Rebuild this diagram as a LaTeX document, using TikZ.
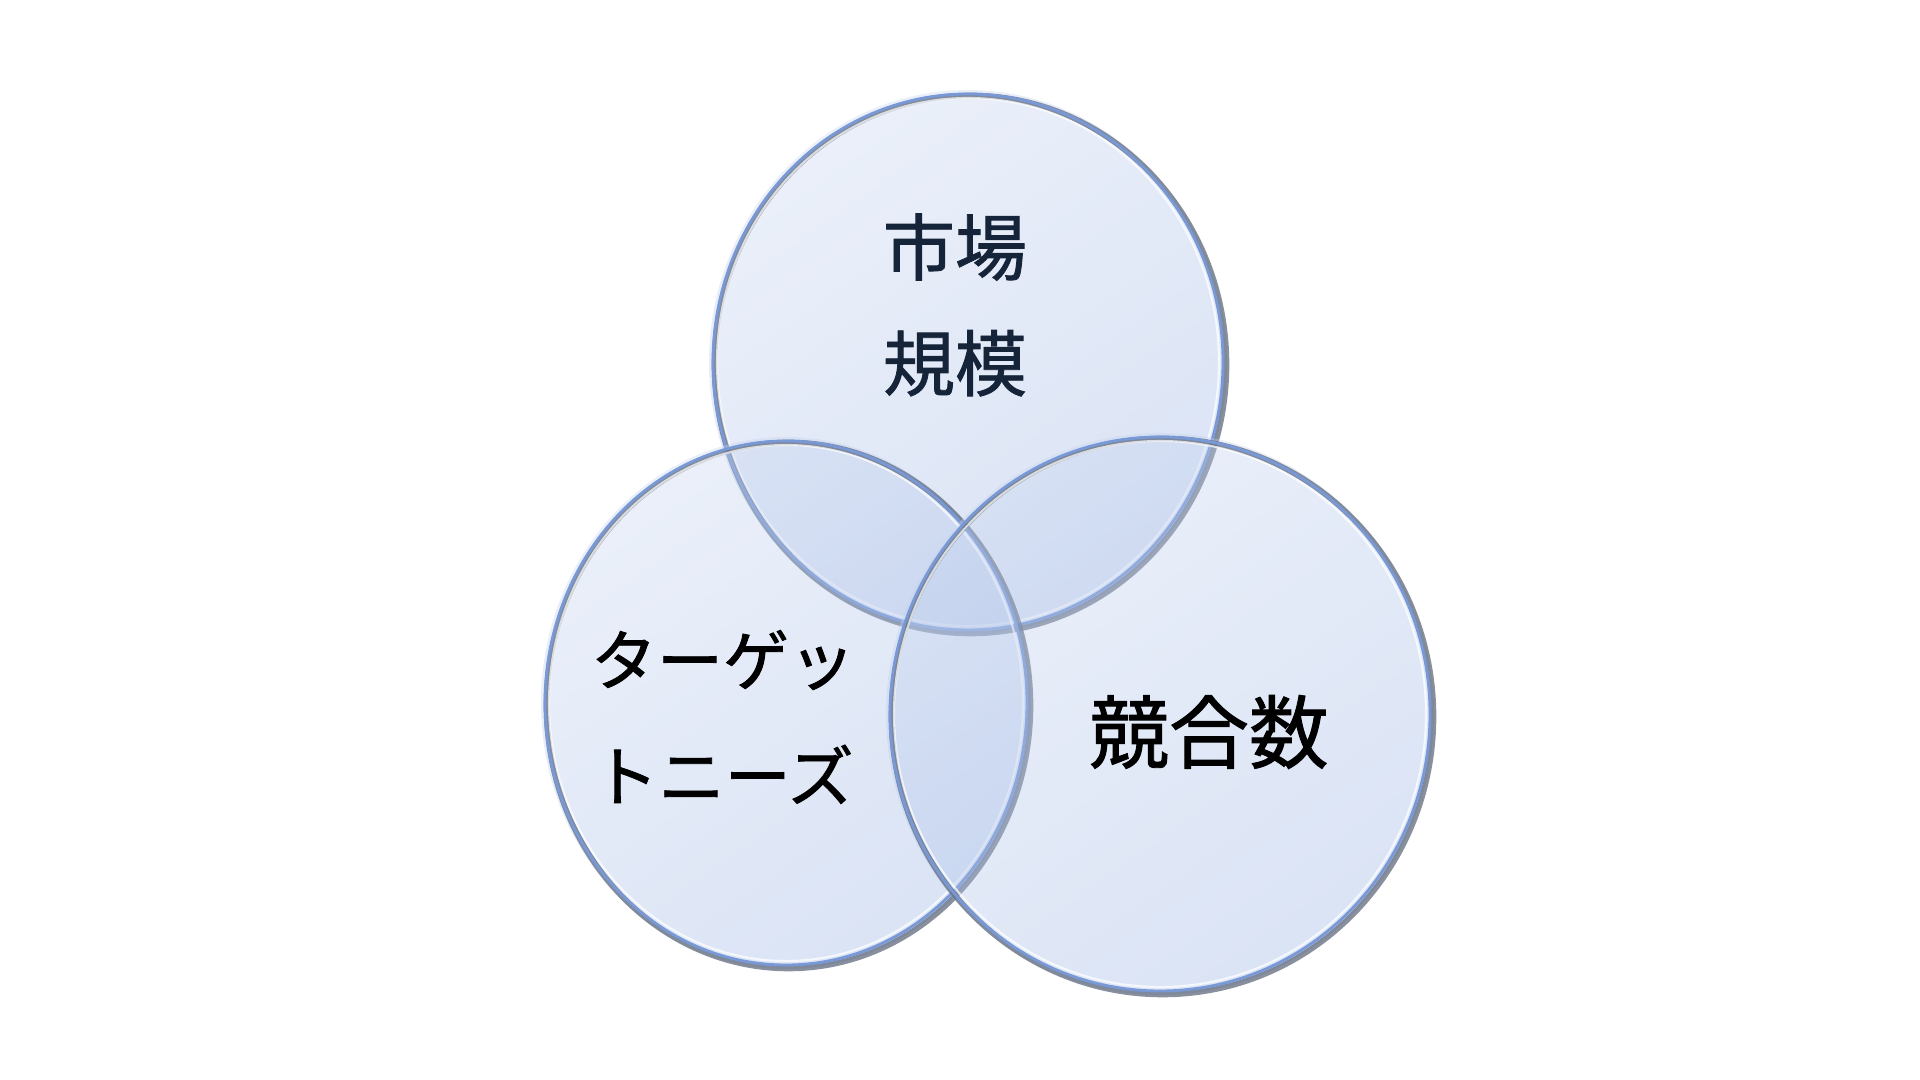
\documentclass[tikz,border=0pt]{standalone}
\usepackage{fontspec}
\newfontfamily\jpfont[FakeBold=1.2]{Noto Sans CJK JP}
\usetikzlibrary{positioning}
\definecolor{vennfill}{RGB}{142,170,224}
\definecolor{vennrim}{RGB}{96,106,124}
\definecolor{vennline}{RGB}{120,152,214}
\definecolor{navytext}{RGB}{22,36,58}
\tikzset{
  venn/.style={top color=vennfill!50!white,bottom color=vennfill!90!white,shading angle=35,fill opacity=0.36,draw=none},
  vennshadow/.style={draw=vennrim,line width=1.6pt,draw opacity=0.75},
  vennedge/.style={draw=vennline,line width=0.8pt},
  vennshine/.style={draw=white,line width=0.6pt,draw opacity=0.7},
  venntext/.style={font=\jpfont,align=center,text=black,inner sep=0pt}
}

\begin{document}
\begin{tikzpicture}
\useasboundingbox (0,0) rectangle (19.2,10.8);
% centres of the three circles
\coordinate (market) at (9.68,7.18);
\coordinate (needs) at (7.86,3.77);
\coordinate (rivals) at (11.60,3.66);
% circles
\foreach \c/\rx/\ry in {market/2.59/2.72,needs/2.45/2.66,rivals/2.74/2.81}{
  \shade[venn] (\c) ellipse [x radius=\rx,y radius=\ry];
  \draw[vennshadow] ([shift={(0.025,-0.025)}]\c) ellipse [x radius=\rx-0.03,y radius=\ry-0.03];
  \draw[vennedge] (\c) ellipse [x radius=\rx-0.04,y radius=\ry-0.04];
  \draw[vennshine] (\c) ellipse [x radius=\rx-0.08,y radius=\ry-0.08];
}
% labels
\node[venntext,text=navytext,font=\jpfont\fontsize{20.5}{33}\selectfont] (marketsize) at (9.55,7.75) {市場\\規模};
\node[venntext,font=\jpfont\fontsize{18.8}{33}\selectfont] (targetneeds) at (7.23,3.63) {ターゲッ\\トニーズ};
\node[venntext,font=\jpfont\fontsize{22.7}{28}\selectfont] (competitors) at (12.09,3.48) {競合数};
\end{tikzpicture}
\end{document}
